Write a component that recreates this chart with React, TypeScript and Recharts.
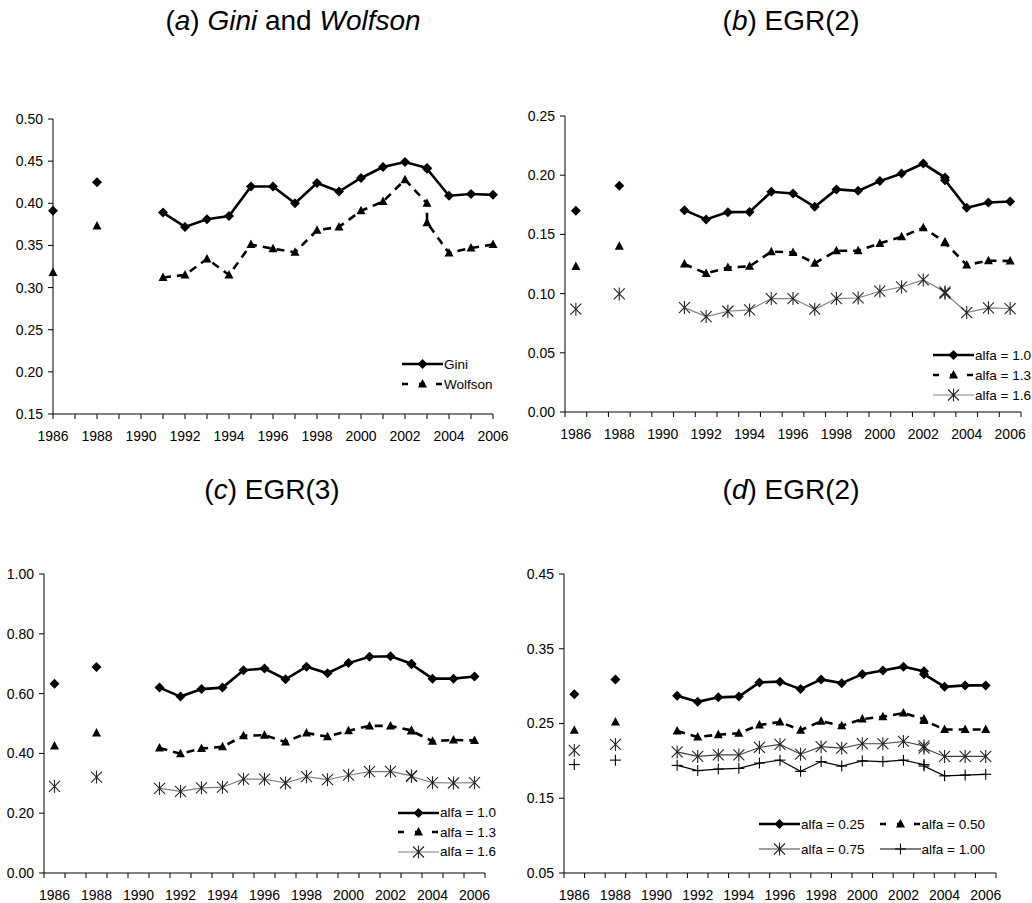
import React from "react";
import { LineChart, Line, XAxis, YAxis, Legend } from "recharts";

// Survey years; 1987, 1989 and 1990 are gaps, 2003 has two estimates.
const YEARS = [
  1986, 1987, 1988, 1989, 1990, 1991, 1992, 1993, 1994, 1995, 1996,
  1997, 1998, 1999, 2000, 2001, 2002, 2003, 2003, 2004, 2005, 2006,
];

// (a) Gini and Wolfson
const GINI = [0.391, null, 0.425, null, null, 0.389, 0.372, 0.381, 0.385, 0.42, 0.42, 0.4, 0.424, 0.414, 0.43, 0.443, 0.449, 0.442, 0.441, 0.409, 0.411, 0.41];
const WOLFSON = [0.318, null, 0.373, null, null, 0.312, 0.315, 0.334, 0.315, 0.351, 0.346, 0.342, 0.368, 0.372, 0.391, 0.402, 0.428, 0.4, 0.377, 0.341, 0.347, 0.351];

// (b) EGR(2)
const EGR2_10 = [0.17, null, 0.191, null, null, 0.1705, 0.1626, 0.1688, 0.169, 0.186, 0.1846, 0.1733, 0.188, 0.1868, 0.195, 0.2014, 0.2098, 0.198, 0.1958, 0.1725, 0.177, 0.1778];
const EGR2_13 = [0.1228, null, 0.14, null, null, 0.125, 0.117, 0.122, 0.123, 0.1354, 0.1348, 0.1256, 0.1362, 0.1362, 0.1424, 0.148, 0.1556, 0.1435, 0.143, 0.1242, 0.1278, 0.1275];
const EGR2_16 = [0.0868, null, 0.0997, null, null, 0.0882, 0.0806, 0.0851, 0.0862, 0.0958, 0.0958, 0.0868, 0.0958, 0.0963, 0.102, 0.1056, 0.1115, 0.1014, 0.1003, 0.084, 0.088, 0.0874];

// (c) EGR(3)
const EGR3_10 = [0.633, null, 0.689, null, null, 0.62, 0.59, 0.615, 0.62, 0.678, 0.684, 0.648, 0.69, 0.668, 0.702, 0.723, 0.725, 0.7, 0.698, 0.65, 0.65, 0.657];
const EGR3_13 = [0.425, null, 0.468, null, null, 0.418, 0.399, 0.416, 0.422, 0.459, 0.461, 0.438, 0.468, 0.456, 0.476, 0.492, 0.492, 0.477, 0.475, 0.441, 0.445, 0.443];
const EGR3_16 = [0.29, null, 0.321, null, null, 0.283, 0.273, 0.285, 0.287, 0.314, 0.314, 0.301, 0.322, 0.312, 0.327, 0.339, 0.34, 0.325, 0.323, 0.302, 0.301, 0.302];

// (d) EGR(2), low alfa values
const EGR2D_025 = [0.289, null, 0.309, null, null, 0.287, 0.279, 0.285, 0.286, 0.305, 0.306, 0.296, 0.309, 0.304, 0.316, 0.321, 0.326, 0.32, 0.316, 0.299, 0.301, 0.301];
const EGR2D_050 = [0.241, null, 0.252, null, null, 0.24, 0.232, 0.235, 0.237, 0.248, 0.252, 0.241, 0.253, 0.247, 0.256, 0.259, 0.264, 0.256, 0.254, 0.242, 0.242, 0.242];
const EGR2D_075 = [0.214, null, 0.222, null, null, 0.212, 0.206, 0.208, 0.208, 0.218, 0.222, 0.209, 0.219, 0.217, 0.223, 0.223, 0.226, 0.22, 0.217, 0.206, 0.206, 0.206];
const EGR2D_100 = [0.195, null, 0.201, null, null, 0.194, 0.187, 0.189, 0.19, 0.197, 0.201, 0.186, 0.199, 0.193, 0.2, 0.199, 0.201, 0.195, 0.193, 0.18, 0.181, 0.182];

const Y_TICKS_A = [0.15, 0.2, 0.25, 0.3, 0.35, 0.4, 0.45, 0.5];
const Y_TICKS_B = [0, 0.05, 0.1, 0.15, 0.2, 0.25];
const Y_TICKS_C = [0, 0.2, 0.4, 0.6, 0.8, 1.0];
const Y_TICKS_D = [0.05, 0.15, 0.25, 0.35, 0.45];

const FONT = "'Liberation Sans', Arial, sans-serif";

type Marker = "diamond" | "triangle" | "star" | "plus";

interface Series {
  key: string;
  name: string;
  values: (number | null)[];
  marker: Marker;
  stroke: string;
  width: number;
  dash?: string;
  legendDash?: string;
}

const solidThick = { stroke: "#000", width: 2.6 };
const dashedThick = { stroke: "#000", width: 2.6, dash: "8 6", legendDash: "6 11" };

const SERIES_A: Series[] = [
  { key: "gini", name: "Gini", values: GINI, marker: "diamond", ...solidThick },
  { key: "wolfson", name: "Wolfson", values: WOLFSON, marker: "triangle", ...dashedThick },
];
const SERIES_B: Series[] = [
  { key: "a10", name: "alfa = 1.0", values: EGR2_10, marker: "diamond", ...solidThick },
  { key: "a13", name: "alfa = 1.3", values: EGR2_13, marker: "triangle", ...dashedThick },
  { key: "a16", name: "alfa = 1.6", values: EGR2_16, marker: "star", stroke: "#808080", width: 1.2 },
];
const SERIES_C: Series[] = [
  { key: "a10", name: "alfa = 1.0", values: EGR3_10, marker: "diamond", ...solidThick },
  { key: "a13", name: "alfa = 1.3", values: EGR3_13, marker: "triangle", ...dashedThick },
  { key: "a16", name: "alfa = 1.6", values: EGR3_16, marker: "star", stroke: "#808080", width: 1.2 },
];
const SERIES_D: Series[] = [
  { key: "a025", name: "alfa = 0.25", values: EGR2D_025, marker: "diamond", ...solidThick },
  { key: "a050", name: "alfa = 0.50", values: EGR2D_050, marker: "triangle", ...dashedThick },
  { key: "a075", name: "alfa = 0.75", values: EGR2D_075, marker: "star", stroke: "#404040", width: 1.1 },
  { key: "a100", name: "alfa = 1.00", values: EGR2D_100, marker: "plus", stroke: "#000", width: 1.1 },
];

function buildRows(series: Series[]) {
  return YEARS.map((year, i) => {
    const row: Record<string, number | null> = { year };
    series.forEach((s) => (row[s.key] = s.values[i]));
    return row;
  });
}

function MarkerShape({ kind, cx, cy }: { kind: Marker; cx: number; cy: number }) {
  if (kind === "diamond") {
    const r = 5;
    return <polygon points={`${cx},${cy - r} ${cx + r},${cy} ${cx},${cy + r} ${cx - r},${cy}`} fill="#000" />;
  }
  if (kind === "triangle") {
    return <polygon points={`${cx},${cy - 5} ${cx + 4.5},${cy + 3.5} ${cx - 4.5},${cy + 3.5}`} fill="#000" />;
  }
  if (kind === "star") {
    const r = 5.5;
    return (
      <g stroke="#222" strokeWidth={1.1}>
        <line x1={cx - r} y1={cy - r} x2={cx + r} y2={cy + r} />
        <line x1={cx - r} y1={cy + r} x2={cx + r} y2={cy - r} />
        <line x1={cx} y1={cy - r - 1} x2={cx} y2={cy + r + 1} />
      </g>
    );
  }
  const r = 5.5;
  return (
    <g stroke="#000" strokeWidth={1.1}>
      <line x1={cx - r} y1={cy} x2={cx + r} y2={cy} />
      <line x1={cx} y1={cy - r} x2={cx} y2={cy + r} />
    </g>
  );
}

const makeDot = (kind: Marker) => (props: any) => {
  const { cx, cy, index, value } = props;
  if (cx == null || cy == null || value == null) return <g key={`e-${index}`} />;
  return (
    <g key={`m-${index}`}>
      <MarkerShape kind={kind} cx={cx} cy={cy} />
    </g>
  );
};

const LABEL_DY = 27;

// Year labels under the axis; half-year ticks only get a short mark.
const YearTick = (props: any) => {
  const { x, y, payload } = props;
  const v: number = payload.value;
  const label = (
    <text x={x} y={y + LABEL_DY} textAnchor="middle" fontSize={14} fontFamily={FONT} fill="#000">
      {v}
    </text>
  );
  if (!Number.isInteger(v) || props.markAll) {
    return (
      <g>
        <line x1={x} y1={y} x2={x} y2={y + 5} stroke="#000" />
        {Number.isInteger(v) && v % 2 === 0 && label}
      </g>
    );
  }
  if (v % 2 !== 0) return <g />;
  return label;
};

function LegendBox({ series, columns, rowHeight, colWidth }: { series: Series[]; columns: number; rowHeight: number; colWidth: number }) {
  return (
    <div style={{ display: "grid", gridTemplateColumns: `repeat(${columns}, ${colWidth}px)`, fontFamily: FONT, fontSize: 13.5, color: "#000" }}>
      {series.map((s) => (
        <div key={s.key} style={{ display: "flex", alignItems: "center", height: rowHeight }}>
          <svg width={41} height={14} style={{ display: "block" }}>
            <line x1={0} y1={7} x2={41} y2={7} stroke={s.stroke} strokeWidth={s.width} strokeDasharray={s.legendDash} />
            <MarkerShape kind={s.marker} cx={20.5} cy={7} />
          </svg>
          <span style={{ marginLeft: 1, whiteSpace: "nowrap" }}>{s.name}</span>
        </div>
      ))}
    </div>
  );
}

interface PanelProps {
  left: number;
  top: number;
  width: number;
  height: number;
  margin: { top: number; right: number; bottom: number; left: number };
  yWidth: number;
  yDomain: [number, number];
  yTicks: number[];
  xDomain: [number, number];
  xTicks: number[];
  markAll?: boolean;
  series: Series[];
  legend: { left: number; top: number; columns: number; rowHeight: number; colWidth: number };
}

function Panel(p: PanelProps) {
  const rows = buildRows(p.series);
  return (
    <div style={{ position: "absolute", left: p.left, top: p.top }}>
      <LineChart width={p.width} height={p.height} data={rows} margin={p.margin}>
        <XAxis
          dataKey="year"
          type="number"
          domain={p.xDomain}
          ticks={p.xTicks}
          interval={0}
          tickLine={false}
          tickSize={0}
          tickMargin={0}
          height={30}
          axisLine={{ stroke: "#000" }}
          tick={<YearTick markAll={p.markAll} />}
        />
        <YAxis
          type="number"
          domain={p.yDomain}
          ticks={p.yTicks}
          interval={0}
          width={p.yWidth}
          tickSize={5}
          tickMargin={5}
          axisLine={{ stroke: "#000" }}
          tickLine={{ stroke: "#000" }}
          tickFormatter={(v: number) => v.toFixed(2)}
          tick={{ fontSize: 14, fontFamily: FONT, fill: "#000" }}
        />
        {p.series.map((s) => (
          <Line
            key={s.key}
            dataKey={s.key}
            name={s.name}
            type="linear"
            stroke={s.stroke}
            strokeWidth={s.width}
            strokeDasharray={s.dash}
            dot={makeDot(s.marker)}
            activeDot={false}
            isAnimationActive={false}
          />
        ))}
        <Legend
          layout="vertical"
          align="center"
          verticalAlign="middle"
          wrapperStyle={{ left: p.legend.left, top: p.legend.top, width: p.legend.columns * p.legend.colWidth }}
          content={() => (
            <LegendBox series={p.series} columns={p.legend.columns} rowHeight={p.legend.rowHeight} colWidth={p.legend.colWidth} />
          )}
        />
      </LineChart>
    </div>
  );
}

const ALL_YEARS = Array.from({ length: 21 }, (_, i) => 1986 + i);
const HALF_AND_EVEN = [
  ...Array.from({ length: 22 }, (_, i) => 1985.5 + i),
  ...ALL_YEARS.filter((y) => y % 2 === 0),
];

const titleStyle: React.CSSProperties = {
  position: "absolute",
  width: 400,
  textAlign: "center",
  fontFamily: FONT,
  fontSize: 28,
  lineHeight: "28px",
  color: "#000",
  whiteSpace: "nowrap",
};

export default function App() {
  return (
    <div style={{ position: "absolute", left: 0, top: 0, width: 1032, height: 903, background: "#fff", fontFamily: FONT }}>
      <div style={{ ...titleStyle, left: 293 - 200, top: 7 }}>
        (<i>a</i>) <i>Gini</i> and <i>Wolfson</i>
      </div>
      <div style={{ ...titleStyle, left: 791 - 200, top: 7 }}>
        (<i>b</i>) EGR(2)
      </div>
      <div style={{ ...titleStyle, left: 272 - 200, top: 476 }}>
        (<i>c</i>) EGR(3)
      </div>
      <div style={{ ...titleStyle, left: 791 - 200, top: 476 }}>
        (<i>d</i>) EGR(2)
      </div>

      <Panel
        left={0}
        top={80}
        width={516}
        height={370}
        margin={{ top: 39, right: 23, bottom: 6, left: 0 }}
        yWidth={53}
        yDomain={[0.15, 0.5]}
        yTicks={Y_TICKS_A}
        xDomain={[1986, 2006]}
        xTicks={ALL_YEARS}
        markAll
        series={SERIES_A}
        legend={{ left: 402, top: 274, columns: 1, rowHeight: 20, colWidth: 110 }}
      />
      <Panel
        left={516}
        top={80}
        width={516}
        height={370}
        margin={{ top: 36, right: 11, bottom: 8, left: 0 }}
        yWidth={49}
        yDomain={[0, 0.25]}
        yTicks={Y_TICKS_B}
        xDomain={[1985.5, 2006.5]}
        xTicks={HALF_AND_EVEN}
        series={SERIES_B}
        legend={{ left: 417, top: 265, columns: 1, rowHeight: 20, colWidth: 100 }}
      />
      <Panel
        left={0}
        top={500}
        width={516}
        height={403}
        margin={{ top: 74, right: 31, bottom: 0, left: 0 }}
        yWidth={44}
        yDomain={[0, 1]}
        yTicks={Y_TICKS_C}
        xDomain={[1985.5, 2006.5]}
        xTicks={HALF_AND_EVEN}
        series={SERIES_C}
        legend={{ left: 398, top: 303, columns: 1, rowHeight: 19.5, colWidth: 110 }}
      />
      <Panel
        left={516}
        top={500}
        width={516}
        height={403}
        margin={{ top: 74, right: 36, bottom: 0, left: 0 }}
        yWidth={48}
        yDomain={[0.05, 0.45]}
        yTicks={Y_TICKS_D}
        xDomain={[1985.5, 2006.5]}
        xTicks={HALF_AND_EVEN}
        series={SERIES_D}
        legend={{ left: 243, top: 312, columns: 2, rowHeight: 24.7, colWidth: 120.6 }}
      />
    </div>
  );
}
